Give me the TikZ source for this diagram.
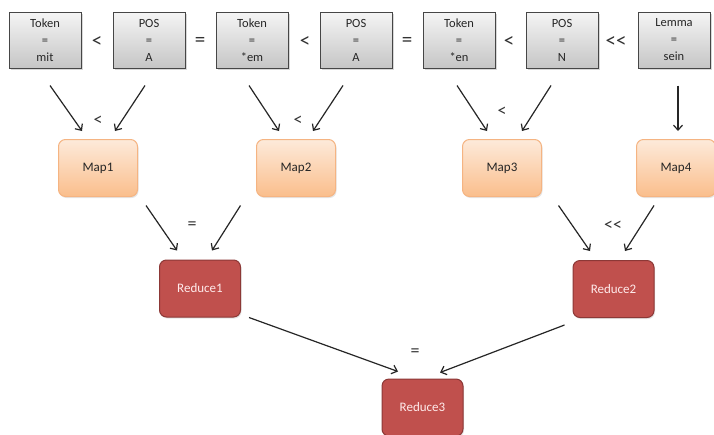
\documentclass[tikz,border=0pt]{standalone}
\usepackage{fontspec}
\setmainfont{Carlito}
\usepackage{tikz}
\usetikzlibrary{shadows}
\usetikzlibrary{arrows.meta}

\definecolor{tokline}{RGB}{70,70,70}
\definecolor{maptop}{RGB}{253,234,218}
\definecolor{mapbottom}{RGB}{250,190,140}
\definecolor{mapline}{RGB}{245,180,130}
\definecolor{redfill}{RGB}{192,80,77}
\definecolor{redline}{RGB}{140,56,54}

\tikzset{
	tokbox/.style = {draw = tokline, line width = 1pt, top color = gray!8, bottom color = gray!45,
		minimum width = 72pt, minimum height = 56pt, align = center,
		font = \fontsize{12.5}{17}\selectfont, text = black!85,
		drop shadow = {opacity = 0.3, shadow xshift = 1.5pt, shadow yshift = -1.5pt}},
	mapbox/.style = {draw = mapline, line width = 1pt, rounded corners = 7pt, top color = maptop,
		bottom color = mapbottom, minimum width = 79pt, minimum height = 57pt,
		font = \fontsize{13}{15}\selectfont, text = black!85,
		drop shadow = {opacity = 0.2, shadow xshift = 1pt, shadow yshift = -1.5pt}},
	redbox/.style = {draw = redline, line width = 1pt, rounded corners = 7pt, fill = redfill,
		minimum width = 81pt, minimum height = 57pt,
		font = \fontsize{13}{15}\selectfont, text = white!92!red,
		drop shadow = {opacity = 0.2, shadow xshift = 1pt, shadow yshift = -1.5pt}},
	arr/.style = {-{Straight Barb[length = 5pt, width = 9pt]}, line width = 1.2pt, black!85},
	oplabel/.style = {draw = none, font = \fontsize{21}{21}\selectfont, text = black!80},
	arrlabel/.style = {draw = none, font = \fontsize{18}{18}\selectfont, text = black!80}
}

\begin{document}
\begin{tikzpicture}[x = 1pt, y = -1pt]
		% Canvas
		\useasboundingbox [fill = white] (0,0) rectangle (714,434);
		% Query terms
		\node [tokbox] (tok1) at (45,40) {Token\\=\\mit};
		\node [tokbox] (tok2) at (149,40) {POS\\=\\A};
		\node [tokbox] (tok3) at (252,40) {Token\\=\\*em};
		\node [tokbox] (tok4) at (356,40) {POS\\=\\A};
		\node [tokbox] (tok5) at (459,40) {Token\\=\\*en};
		\node [tokbox] (tok6) at (562,40) {POS\\=\\N};
		\node [tokbox] (tok7) at (674,40) {Lemma\\=\\sein};
		% Operators between terms
		\node [oplabel] (op1) at (97,42) {<};
		\node [oplabel] (op2) at (200,42) {=};
		\node [oplabel] (op3) at (305,42) {<};
		\node [oplabel] (op4) at (407,42) {=};
		\node [oplabel] (op5) at (509,42) {<};
		\node [oplabel] (op6) at (616,42) {{<}{<}};
		% Map tasks
		\node [mapbox] (map1) at (98,168) {Map1};
		\node [mapbox] (map2) at (296,168) {Map2};
		\node [mapbox] (map3) at (502,168) {Map3};
		\node [mapbox] (map4) at (676,168) {Map4};
		% Reduce tasks
		\node [redbox] (red1) at (200,288.5) {Reduce1};
		\node [redbox] (red2) at (613.5,289) {Reduce2};
		\node [redbox] (red3) at (422.5,407.5) {Reduce3};
		% Terms into maps
		\draw [arr] ([xshift = 5pt, yshift = -17pt]tok1.south) -- ([xshift = -16pt, yshift = 8pt]map1.north);
		\draw [arr] ([xshift = -4pt, yshift = -17pt]tok2.south) -- ([xshift = 17pt, yshift = 8pt]map1.north);
		\draw [arr] ([xshift = -3pt, yshift = -17pt]tok3.south) -- ([xshift = -17pt, yshift = 8pt]map2.north);
		\draw [arr] ([xshift = -13pt, yshift = -17pt]tok4.south) -- ([xshift = 17pt, yshift = 8pt]map2.north);
		\draw [arr] ([xshift = -2pt, yshift = -17pt]tok5.south) -- ([xshift = -15pt, yshift = 8pt]map3.north);
		\draw [arr] ([xshift = -11pt, yshift = -17pt]tok6.south) -- ([xshift = 20pt, yshift = 8pt]map3.north);
		\draw [arr] ([xshift = 4pt, yshift = -17pt]tok7.south) -- ([xshift = 2pt, yshift = 8pt]map4.north);
		\node [arrlabel] (lab1) at (98,121) {<};
		\node [arrlabel] (lab2) at (298,121) {<};
		\node [arrlabel] (lab3) at (502,112) {<};
		% Maps into reducers
		\draw [arr] ([xshift = 8pt, yshift = -8.5pt]map1.south east) -- ([xshift = -23pt, yshift = 9pt]red1.north);
		\draw [arr] ([xshift = -15.5pt, yshift = -8.5pt]map2.south west) -- ([xshift = 12pt, yshift = 9pt]red1.north);
		\draw [arr] ([xshift = 16.5pt, yshift = -8.5pt]map3.south east) -- ([xshift = -23.5pt, yshift = 9pt]red2.north);
		\draw [arr] ([xshift = -22pt, yshift = -8.5pt]map4.south) -- ([xshift = 11.5pt, yshift = 9pt]red2.north);
		\node [arrlabel] (lab4) at (192,226) {=};
		\node [arrlabel] (lab5) at (613,226) {{<}{<}};
		% Final reduce
		\draw [arr] ([xshift = 8pt, yshift = 0pt]red1.south east) -- ([xshift = -24.5pt, yshift = 7pt]red3.north);
		\draw [arr] ([xshift = -8pt, yshift = -7pt]red2.south west) -- ([xshift = 17.5pt, yshift = 6pt]red3.north);
		\node [arrlabel] (lab6) at (415,353) {=};
\end{tikzpicture}
\end{document}
